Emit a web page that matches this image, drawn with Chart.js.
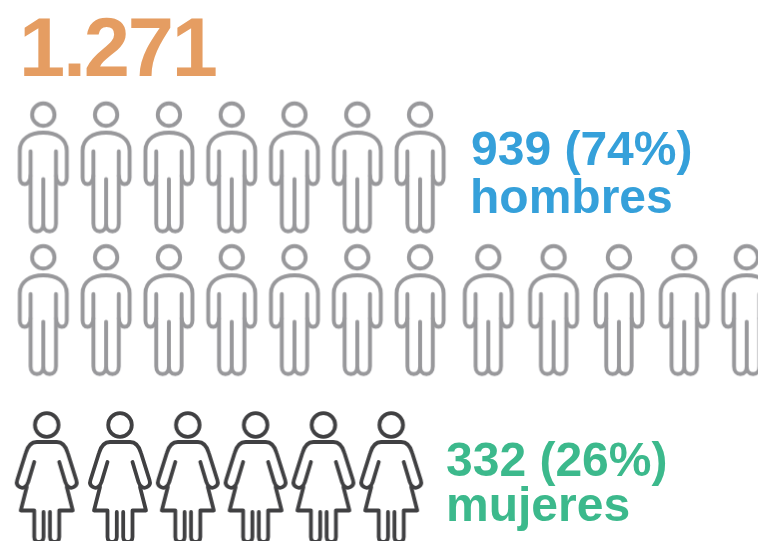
<!DOCTYPE html>
<html><head><meta charset="utf-8">
<style>html,body{margin:0;padding:0;background:#fff}canvas{display:block}</style>
<script src="https://cdn.jsdelivr.net/npm/chart.js@4"></script>
</head><body><canvas id="c" width="758" height="541"></canvas>
<script>
const totalLabel = '1.271';
const categories = ['hombres', 'mujeres'];
const counts = [939, 332];
const percents = [74, 26];
const menRow1Icons = 7;
const menRow2LeftIcons = 7;
const menRow2MiddleIcons = 4;
const menRow2EdgeIcons = 1;
const womenFirstIcons = 1;
const womenRestIcons = 5;

const GREY = '#98989b', DARK = '#404042';

function iconCanvas(color, lw, draw) {
  const cv = document.createElement('canvas');
  cv.width = 70; cv.height = 160;
  const g = cv.getContext('2d');
  g.translate(35, 20);
  g.strokeStyle = color; g.lineWidth = lw; g.lineCap = 'round'; g.lineJoin = 'round';
  draw(g);
  return cv;
}
const manIcon = iconCanvas(GREY, 3.9, g => {
  g.beginPath(); g.arc(0, 0, 11.2, 0, Math.PI * 2); g.stroke();
  g.beginPath();
  g.moveTo(-12.7, 61);
  g.bezierCurveTo(-13, 67, -16, 69.5, -18.5, 69.5);
  g.bezierCurveTo(-21.5, 69.5, -23.5, 67, -23.5, 63);
  g.lineTo(-23.5, 36);
  g.bezierCurveTo(-23.5, 24, -13, 18, 0, 18);
  g.bezierCurveTo(13, 18, 23.5, 24, 23.5, 36);
  g.lineTo(23.5, 63);
  g.bezierCurveTo(23.5, 67, 21.5, 69.5, 18.5, 69.5);
  g.bezierCurveTo(16, 69.5, 13, 67, 12.7, 61);
  g.stroke();
  g.beginPath();
  g.moveTo(-12.7, 36.7); g.lineTo(-12.7, 109);
  g.bezierCurveTo(-12.7, 114, -10, 116.8, -6.3, 116.8);
  g.bezierCurveTo(-2.5, 116.8, 0, 114, 0, 109);
  g.lineTo(0, 64.5);
  g.moveTo(0, 109);
  g.bezierCurveTo(0, 114, 2.5, 116.8, 6.3, 116.8);
  g.bezierCurveTo(10, 116.8, 12.7, 114, 12.7, 109);
  g.lineTo(12.7, 36.7);
  g.stroke();
});
const womanIcon = iconCanvas(DARK, 3.8, g => {
  g.beginPath(); g.arc(0, 0, 11.8, 0, Math.PI * 2); g.stroke();
  g.beginPath();
  g.moveTo(-12.5, 37);
  g.lineTo(-18.5, 57);
  g.bezierCurveTo(-20, 62, -24, 64, -27, 62);
  g.bezierCurveTo(-30, 60.5, -30.5, 58, -29.5, 55);
  g.lineTo(-21, 28);
  g.bezierCurveTo(-19, 21, -15, 17, -10, 17);
  g.lineTo(10, 17);
  g.bezierCurveTo(15, 17, 19, 21, 21, 28);
  g.lineTo(29.5, 55);
  g.bezierCurveTo(30.5, 58, 30, 60.5, 27, 62);
  g.bezierCurveTo(24, 64, 20, 62, 18.5, 57);
  g.lineTo(12.5, 37);
  g.stroke();
  g.beginPath();
  g.moveTo(-20, 62); g.lineTo(-26, 85.5); g.lineTo(-12.5, 85.5);
  g.lineTo(-12.5, 112);
  g.bezierCurveTo(-12.5, 115, -10.5, 117, -8, 117);
  g.bezierCurveTo(-5.5, 117, -3.2, 115, -3.2, 112);
  g.lineTo(-3.2, 87);
  g.moveTo(20, 62); g.lineTo(26, 85.5); g.lineTo(12.5, 85.5);
  g.lineTo(12.5, 112);
  g.bezierCurveTo(12.5, 115, 10.5, 117, 8, 117);
  g.bezierCurveTo(5.5, 117, 3.2, 115, 3.2, 112);
  g.lineTo(3.2, 87);
  g.stroke();
});

const row = (n, y) => Array.from({length: n}, (_, i) => ({x: i, y}));
const W = 758, H = 541;
const axis = (origin, step) => ({type: 'linear', display: false, min: -origin / step, max: (W - origin) / step});
const yAxis = (origin, step) => ({type: 'linear', display: false, reverse: true, min: -origin / step, max: (H - origin) / step});

const ds = (label, data, xAxisID, yAxisID, icon) => ({
  label, data, xAxisID, yAxisID, pointStyle: icon, pointRadius: 5, pointHoverRadius: 5, showLine: false, clip: false
});

const labels = {
  id: 'labels',
  afterDraw(chart) {
    const c = chart.ctx;
    c.save();
    c.textBaseline = 'alphabetic'; c.textAlign = 'left';
    const put = (t, x, y, font, col, sp) => { c.font = font; c.fillStyle = col; c.letterSpacing = sp || '0px'; c.fillText(t, x, y); };
    const F = 'bold 83px "Liberation Sans"', f = 'bold 48px "Liberation Sans"';
    put(totalLabel, 19, 75.5, F, '#e59d62', '-2.2px');
    put(`${counts[0]} (${percents[0]}%)`, 471, 165, f, '#35a0da');
    put(categories[0], 470, 213, f, '#35a0da');
    put(`${counts[1]} (${percents[1]}%)`, 446, 476, f, '#3cb98c');
    put(categories[1], 446, 521, f, '#3cb98c');
    c.restore();
  }
};

new Chart(document.getElementById('c'), {
  type: 'scatter',
  data: {datasets: [
    ds('hombres 1', row(menRow1Icons, 0), 'xMen', 'yMen', manIcon),
    ds('hombres 2', row(menRow2LeftIcons, 1), 'xMen', 'yMen', manIcon),
    ds('hombres 3', row(menRow2MiddleIcons, 1), 'xMenRight', 'yMen', manIcon),
    ds('hombres 4', row(menRow2EdgeIcons, 1), 'xMenEdge', 'yMen', manIcon),
    ds('mujeres 1', row(womenFirstIcons, 0), 'xWomenFirst', 'yWomen', womanIcon),
    ds('mujeres 2', row(womenRestIcons, 0), 'xWomen', 'yWomen', womanIcon)
  ]},
  options: {
    responsive: false, animation: false, events: [],
    layout: {padding: 0, autoPadding: false},
    plugins: {legend: {display: false}, title: {display: false}, tooltip: {enabled: false}},
    scales: {
      xMen: axis(43.3, 62.8),
      xMenRight: axis(488.3, 65.3),
      xMenEdge: axis(746.7, 65.3),
      xWomenFirst: axis(46.7, 67.8),
      xWomen: axis(120, 67.8),
      yMen: yAxis(174.6, 142.7),
      yWomen: yAxis(485, 100)
    }
  },
  plugins: [labels]
});
</script></body></html>
